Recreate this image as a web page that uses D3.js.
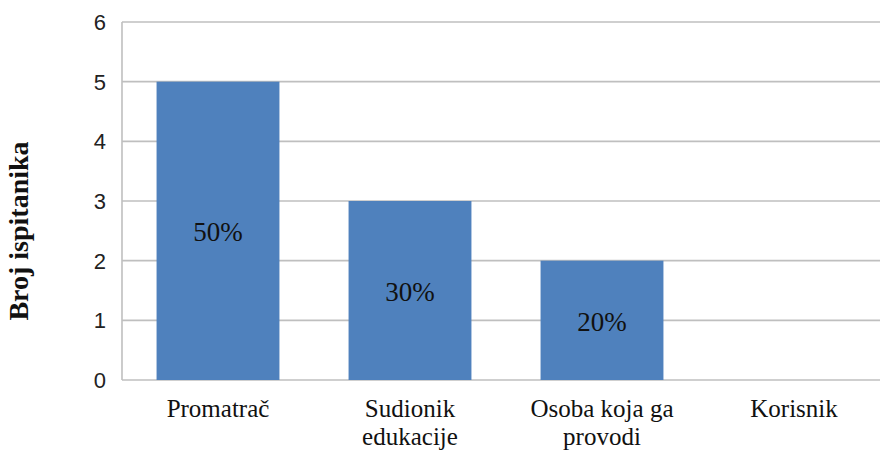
<!DOCTYPE html>
<html lang="hr">
<head>
    <meta charset="UTF-8">
    <title>Broj ispitanika</title>
    <script src="https://d3js.org/d3.v7.min.js"></script>
    <style>
        body { margin: 0; background: #fff; }
        .tick-label { font-family: "Liberation Sans", Arial, sans-serif; font-size: 22px; fill: #222; }
        .cat-label { font-family: "Liberation Serif", "Times New Roman", serif; font-size: 25px; fill: #111; }
        .bar-label { font-family: "Liberation Serif", "Times New Roman", serif; font-size: 27px; fill: #111; }
        .axis-title { font-family: "Liberation Serif", "Times New Roman", serif; font-size: 28px; font-weight: bold; fill: #111; }
    </style>
</head>
<body>
<svg id="chart" width="880" height="452"></svg>
<script>
    // podaci
    const categories = [["Promatrač"], ["Sudionik", "edukacije"], ["Osoba koja ga", "provodi"], ["Korisnik"]];
    const counts = [5, 3, 2, 0];
    const percentLabels = ["50%", "30%", "20%", ""];
    const yTicks = [0, 1, 2, 3, 4, 5, 6];

    const svg = d3.select("#chart");
    const plot = { left: 122, right: 890, top: 22, bottom: 380 };

    const x = d3.scaleBand()
        .domain(d3.range(categories.length))
        .range([plot.left, plot.right])
        .paddingInner(0.36)
        .paddingOuter(0.18);

    const y = d3.scaleLinear().domain([0, 6]).range([plot.bottom, plot.top]);

    // mreža
    svg.append("g").selectAll("line")
        .data(yTicks)
        .join("line")
        .attr("x1", plot.left).attr("x2", plot.right)
        .attr("y1", d => y(d)).attr("y2", d => y(d))
        .attr("stroke", "#bfbfbf")
        .attr("stroke-width", 1.6);

    svg.append("line")
        .attr("x1", plot.left).attr("x2", plot.left)
        .attr("y1", plot.top).attr("y2", plot.bottom)
        .attr("stroke", "#bfbfbf")
        .attr("stroke-width", 1.6);

    // y oznake
    svg.append("g").selectAll("text")
        .data(yTicks)
        .join("text")
        .attr("class", "tick-label")
        .attr("x", plot.left - 16)
        .attr("y", d => y(d))
        .attr("dy", "0.36em")
        .attr("text-anchor", "end")
        .text(d => d);

    // stupci
    svg.append("g").selectAll("rect")
        .data(counts)
        .join("rect")
        .attr("x", (d, i) => x(i))
        .attr("y", d => y(d))
        .attr("width", x.bandwidth())
        .attr("height", d => y(0) - y(d))
        .attr("fill", "#4f81bd");

    svg.append("g").selectAll("text")
        .data(counts)
        .join("text")
        .attr("class", "bar-label")
        .attr("x", (d, i) => x(i) + x.bandwidth() / 2)
        .attr("y", d => (y(d) + y(0)) / 2 + 1)
        .attr("dy", "0.35em")
        .attr("text-anchor", "middle")
        .text((d, i) => percentLabels[i]);

    // kategorije
    const cats = svg.append("g").selectAll("text")
        .data(categories)
        .join("text")
        .attr("class", "cat-label")
        .attr("text-anchor", "middle")
        .attr("transform", (d, i) => `translate(${x(i) + x.bandwidth() / 2},${plot.bottom + 37})`);
    cats.selectAll("tspan")
        .data(d => d)
        .join("tspan")
        .attr("x", 0)
        .attr("y", (d, j) => j * 28)
        .text(d => d);

    svg.append("text")
        .attr("class", "axis-title")
        .attr("transform", `translate(28,${(plot.top + plot.bottom) / 2 + 30}) rotate(-90)`)
        .attr("text-anchor", "middle")
        .text("Broj ispitanika");
</script>
</body>
</html>
